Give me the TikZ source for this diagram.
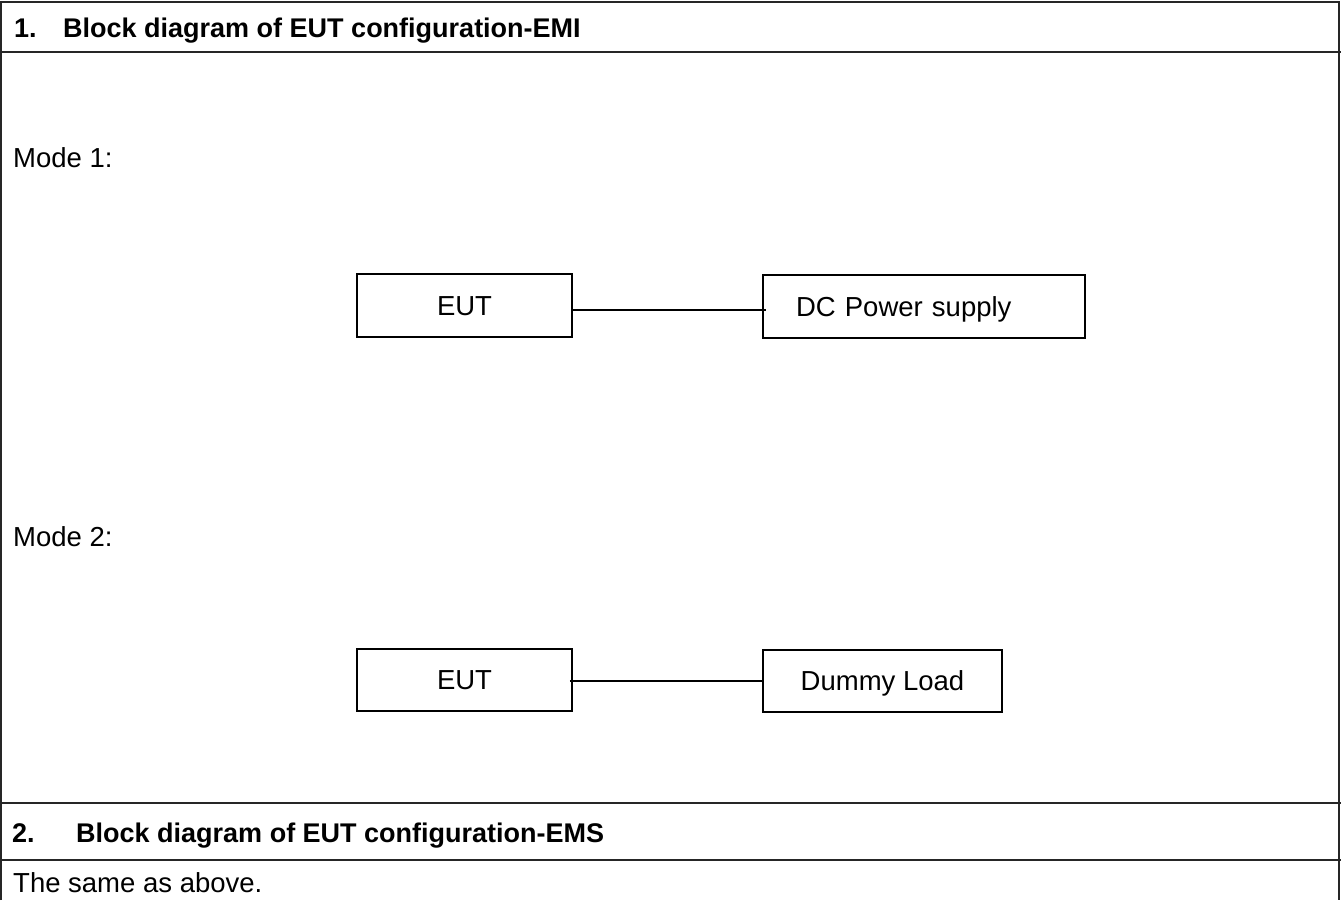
\documentclass[tikz,border=0pt]{standalone}
\usepackage{fontspec}
\setmainfont{Liberation Sans}
\usetikzlibrary{calc}
\begin{document}
\begin{tikzpicture}[x=1pt,y=1pt,
  frame/.style={line width=1.6pt,draw=black!85},
  txt/.style={anchor=base west,inner sep=0pt,font=\fontsize{27.5}{32}\selectfont},
  hdr/.style={anchor=base west,inner sep=0pt,font=\fontsize{27}{32}\selectfont\bfseries},
  blk/.style={draw,line width=1.6pt,inner sep=0pt,text height=19.6pt,text depth=0pt,font=\fontsize{27.5}{32}\selectfont},
  wire/.style={line width=1.6pt}]
\useasboundingbox (0,0) rectangle (1341,-900);
% table frame
\draw[frame] (1,-900) -- (1,-2) -- (1339,-2) -- (1339,-900);
\draw[frame] (0,-52) -- (1341,-52);
\draw[frame] (0,-803) -- (1341,-803);
\draw[frame] (0,-860) -- (1341,-860);
% headers and texts
\node[hdr] (h1) at (14,-37) {\makebox[49pt][l]{1.}Block diagram of EUT configuration-EMI};
\node[hdr] (h2) at (12,-842) {\makebox[64pt][l]{2.}Block diagram of EUT configuration-EMS};
\node[txt] (m1) at (13,-167) {Mode 1:};
\node[txt] (m2) at (13,-546) {Mode 2:};
\node[txt] (same) at (13,-892) {The same as above.};
% mode 1
\node[blk,minimum width=215pt,minimum height=63pt] (eut1) at (464.5,-305.5) {EUT};
\node[blk,minimum height=63pt,inner xsep=33pt,text width=256pt,align=left] (dc) at (924,-306.5) {DC Power supply};
\draw[wire] ([yshift=-4.5pt]eut1.east) -- ([yshift=-3.5pt,xshift=4pt]dc.west);
% mode 2
\node[blk,minimum width=215pt,minimum height=62pt] (eut2) at (464.5,-680) {EUT};
\node[blk,minimum width=239pt,minimum height=62pt] (dl) at (882.5,-681) {Dummy Load};
\draw[wire] ([xshift=-3pt,yshift=-1pt]eut2.east) -- (dl.west);
\end{tikzpicture}
\end{document}
